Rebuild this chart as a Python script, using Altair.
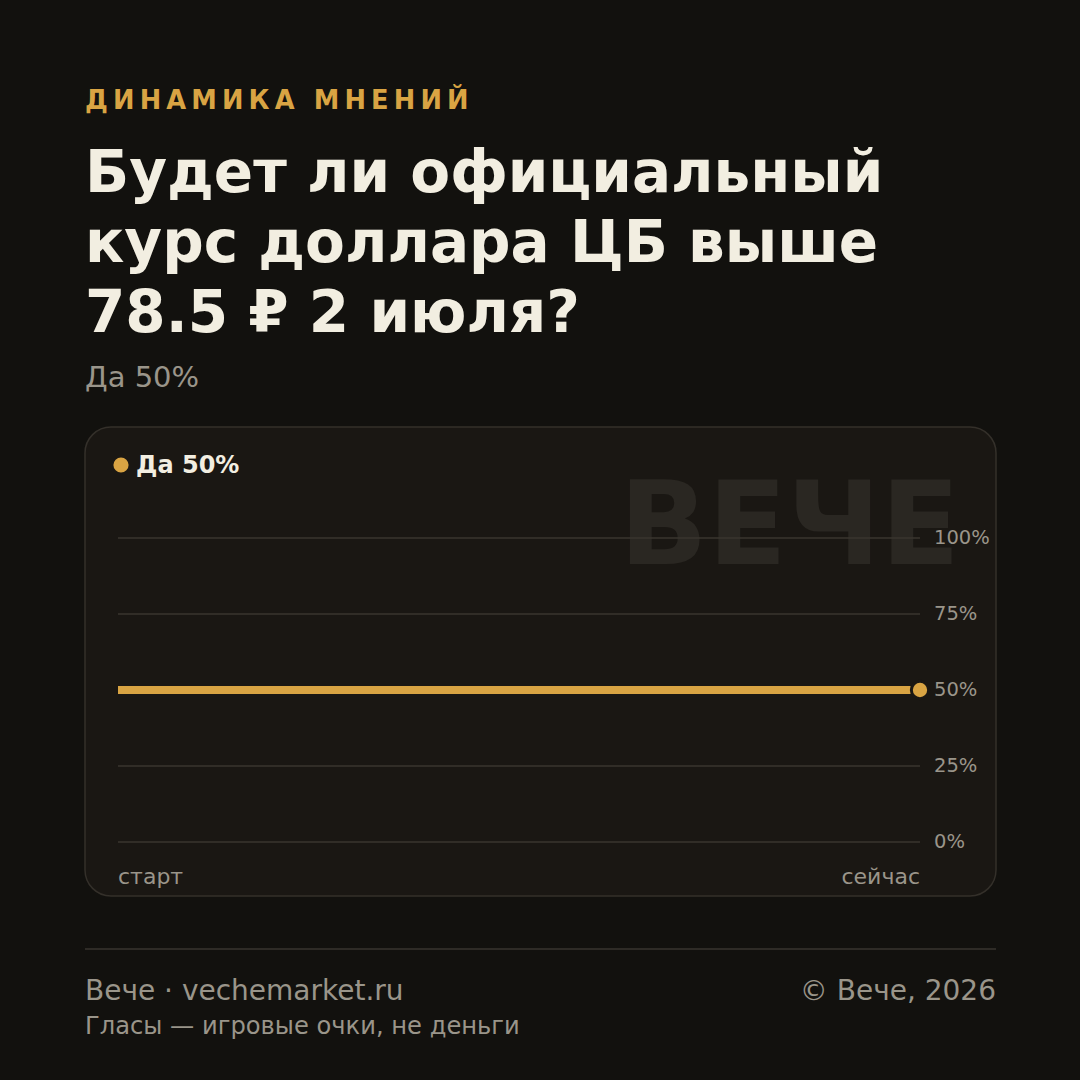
import altair as alt
import pandas as pd

# ---- data ----
x_points = [0, 1]
x_labels = ["старт", "сейчас"]
yes_values = [50, 50]
y_ticks = [0, 25, 50, 75, 100]
y_tick_labels = ["0%", "25%", "50%", "75%", "100%"]

kicker = "ДИНАМИКА МНЕНИЙ"
title_lines = ["Будет ли официальный", "курс доллара ЦБ выше", "78.5 ₽ 2 июля?"]
subtitle = "Да 50%"
legend_label = "Да 50%"
watermark = "ВЕЧЕ"
footer_left = "Вече · vechemarket.ru"
footer_note = "Гласы — игровые очки, не деньги"
footer_right = "© Вече, 2026"

# ---- style ----
BG = "#12110e"
CARD = "#1a1713"
CARD_STROKE = "#34302a"
GRID = "#3a362f"
GOLD = "#d9a443"
TITLE = "#f2eee1"
GRAY = "#9a958a"
WM = "#2a2722"
FONT = "DejaVu Sans"

W, H = 802, 304

line_df = pd.DataFrame({"t": x_points, "label": x_labels, "yes": yes_values})
tick_df = pd.DataFrame({"v": y_ticks, "lab": y_tick_labels})
one = pd.DataFrame({"k": [0]})

xs = alt.Scale(domain=[0, 1])
ys = alt.Scale(domain=[0, 100])

card = alt.Chart(one).mark_rect(
    fill=CARD, stroke=CARD_STROKE, strokeWidth=1.5, cornerRadius=26
).encode(x=alt.value(-33), x2=alt.value(878), y=alt.value(-111), y2=alt.value(358))

wm = alt.Chart(one).mark_text(
    font=FONT, fontSize=116, fontWeight="bold", color=WM, align="right", baseline="alphabetic"
).encode(x=alt.value(842), y=alt.value(26), text=alt.value(watermark))

grid = alt.Chart(tick_df).mark_rule(color=GRID, strokeWidth=1.5).encode(
    y=alt.Y("v:Q", scale=ys, axis=None), x=alt.value(0), x2=alt.value(W)
)

ylabels = alt.Chart(tick_df).mark_text(
    font=FONT, fontSize=19.5, color=GRAY, align="left", baseline="middle"
).encode(y=alt.Y("v:Q", scale=ys, axis=None), x=alt.value(816), text="lab:N")

line = alt.Chart(line_df).mark_line(color=GOLD, strokeWidth=8, strokeCap="butt").encode(
    x=alt.X("t:Q", scale=xs, axis=None), y=alt.Y("yes:Q", scale=ys, axis=None)
)

endpoint = alt.Chart(line_df).transform_filter("datum.t == 1").mark_point(
    filled=True, fill=GOLD, stroke=CARD, strokeWidth=3, size=300, opacity=1
).encode(x=alt.X("t:Q", scale=xs, axis=None), y=alt.Y("yes:Q", scale=ys, axis=None))

xlab_start = alt.Chart(line_df).transform_filter("datum.t == 0").mark_text(
    font=FONT, fontSize=22, color=GRAY, baseline="alphabetic", align="left"
).encode(x=alt.X("t:Q", scale=xs, axis=None), y=alt.value(346), text="label:N")

xlab_end = alt.Chart(line_df).transform_filter("datum.t == 1").mark_text(
    font=FONT, fontSize=22, color=GRAY, baseline="alphabetic", align="right"
).encode(x=alt.X("t:Q", scale=xs, axis=None), y=alt.value(346), text="label:N")


def txt(s, x, y, size, color, weight="normal", align="left"):
    return alt.Chart(one).mark_text(
        font=FONT, fontSize=size, color=color, fontWeight=weight, align=align, baseline="alphabetic"
    ).encode(x=alt.value(x), y=alt.value(y), text=alt.value(s))


kicker_spaced = "\u2009 \u2009".join("\u2009".join(list(w)) for w in kicker.split(" "))

layers = [card, wm, grid, ylabels, line, endpoint, xlab_start, xlab_end]

legend_dot = alt.Chart(one).mark_point(filled=True, fill=GOLD, size=230, opacity=1).encode(
    x=alt.value(3), y=alt.value(-73)
)
layers.append(legend_dot)
layers.append(txt(legend_label, 18, -65, 24, TITLE, "bold"))

layers.append(txt(kicker_spaced, -33, -429, 25.7, GOLD, "bold"))
for i, ln in enumerate(title_lines):
    layers.append(txt(ln, -33, -346 + 70 * i, 58, TITLE, "bold"))
layers.append(txt(subtitle, -33, -151, 29, GRAY))

footer_rule = alt.Chart(one).mark_rule(color="#2e2b26", strokeWidth=2).encode(
    x=alt.value(-33), x2=alt.value(878), y=alt.value(411)
)
layers.append(footer_rule)
layers.append(txt(footer_left, -33, 462, 28, GRAY))
layers.append(txt(footer_note, -33, 496, 24.2, GRAY))
layers.append(txt(footer_right, 878, 462, 28, GRAY, align="right"))

chart = alt.layer(*layers).properties(
    width=W,
    height=H,
    padding={"left": 118, "top": 538, "right": 160, "bottom": 238},
    autosize=alt.AutoSizeParams(type="none"),
    background=BG,
).configure_view(stroke=None)

chart.save("out.html", embed_options={"renderer": "svg", "actions": False})
